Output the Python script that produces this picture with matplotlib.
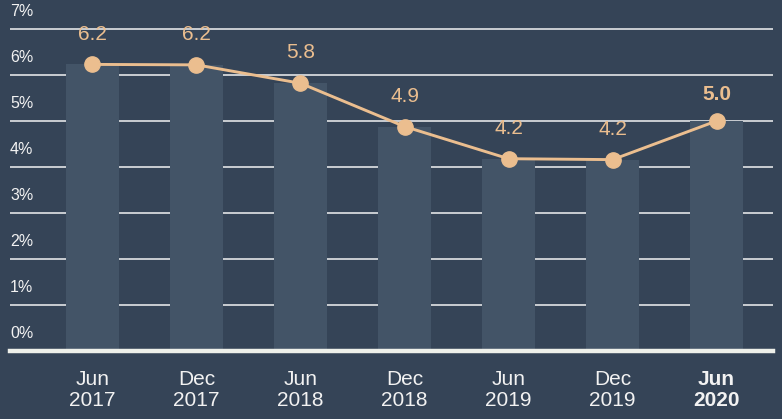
import matplotlib.pyplot as plt

# === Data ===
periods = ["Jun\n2017", "Dec\n2017", "Jun\n2018", "Dec\n2018", "Jun\n2019", "Dec\n2019", "Jun\n2020"]
rates = [6.23, 6.22, 5.82, 4.88, 4.18, 4.16, 5.0]
y_ticks = [0, 1, 2, 3, 4, 5, 6, 7]

bg = "#354457"
bar_color = "#435467"
line_color = "#EBBE8F"
grid_color = "#D5D8DB"
text_color = "#F2F2F2"

plt.rcParams["font.family"] = ["Liberation Sans", "DejaVu Sans"]

fig = plt.figure(figsize=(7.82, 4.19), dpi=100, facecolor=bg)
ax = fig.add_axes([10 / 782, 1 - 351 / 419, 763 / 782, 351 / 419])
ax.set_facecolor(bg)

x = list(range(len(periods)))
ax.set_xlim(-0.793, 6.543)
ax.set_ylim(0, 7.63)

# gridlines behind the bars
for t in y_ticks[1:]:
    ax.axhline(t, color=grid_color, lw=1.3, zorder=1)
for t in y_ticks:
    ax.annotate(f"{t}%", (0, t), xycoords=("axes fraction", "data"),
                xytext=(0, 7), textcoords="offset points",
                ha="left", va="bottom", fontsize=11.5, color=text_color)

ax.bar(x, rates, width=0.51, color=bar_color, zorder=2)
ax.plot(x, rates, color=line_color, lw=2.1, marker="o", markersize=11, zorder=3)

# value labels
for i, v in enumerate(rates):
    last = i == len(rates) - 1
    ax.annotate(f"{v:.1f}", (i, v), xytext=(0, 12 if last else 15),
                textcoords="offset points", ha="center", va="bottom",
                fontsize=15, color=line_color,
                fontweight="bold" if last else "normal")

# thick baseline
ax.axhline(0, color="#EEF0EA", lw=3.2, zorder=4, clip_on=False)

for s in ax.spines.values():
    s.set_visible(False)
ax.set_yticks([])
ax.set_xticks(x)
ax.set_xticklabels(periods, fontsize=15, color=text_color, linespacing=1.1)
ax.tick_params(axis="x", length=0, pad=14)
ax.get_xticklabels()[-1].set_fontweight("bold")

fig.savefig("out.png", dpi=100, facecolor=bg)
